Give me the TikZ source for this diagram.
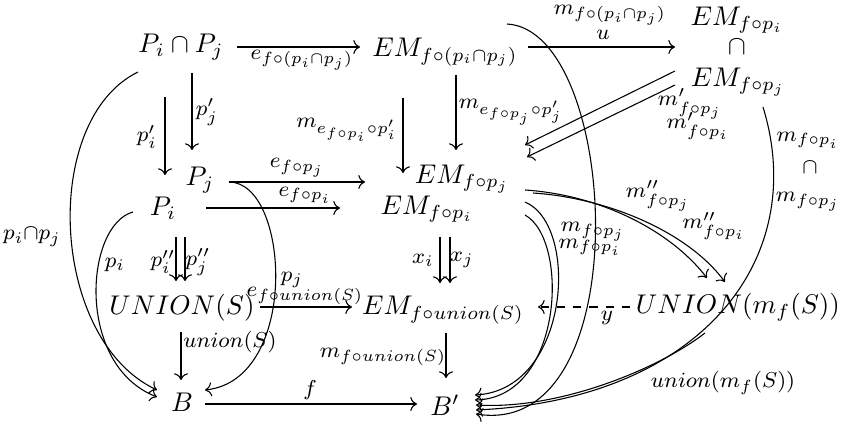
\documentclass[tikz,border=0pt]{standalone}
\usepackage{amsmath}
\usepackage{amssymb}
\usepackage{tikz}
\usetikzlibrary{
	arrows.meta,
	calc
}
\tikzset{
	obj/.style={inner sep=0pt},
	lbl/.style={inner sep=0pt, font=\footnotesize},
	map/.style={-{To}}
}

\begin{document}
\begin{tikzpicture}[x=0.37pt, y=-0.37pt]
		\useasboundingbox (0,0) rectangle (845,424);
		\node[obj] (pipj) at (181,47) {$P_i\cap P_j$};
		\node[obj] (emcap) at (445,52) {$EM_{f\circ(p_i\cap p_j)}$};
		\node[obj] (emtopi) at (737,20) {$EM_{f\circ p_i}$};
		\node[obj] (captop) at (737,47) {$\cap$};
		\node[obj] (emtopj) at (738,82) {$EM_{f\circ p_j}$};
		\node[obj] (pj) at (200,180) {$P_j$};
		\node[obj] (pi) at (163,208) {$P_i$};
		\node[obj] (emj) at (462,179) {$EM_{f\circ p_j}$};
		\node[obj] (emi) at (427,209) {$EM_{f\circ p_i}$};
		\node[obj] (unions) at (182,308) {$UNION(S)$};
		\node[obj] (emu) at (443,310) {$EM_{f\circ union(S)}$};
		\node[obj] (unionm) at (738,307) {$UNION(m_f(S))$};
		\node[obj] (b) at (182,402) {$B$};
		\node[obj] (bp) at (445,405) {$B'$};
		\draw[map] ($(pipj)+(56,0)$) -- ($(emcap)+(-85,-5)$);
		\draw[map] ($(emcap)+(83,-5)$) -- ($(emtopi)+(-62,27)$);
		\draw[map] ($(pipj)+(-16,50)$) -- ($(pi)+(2,-33)$);
		\draw[map] ($(pipj)+(11,26)$) -- ($(pj)+(-8,-30)$);
		\draw[map] ($(emcap)+(-42,46)$) -- ($(emi)+(-24,-36)$);
		\draw[map] ($(emcap)+(11,23)$) -- ($(emj)+(-6,-29)$);
		\draw[map] ($(emtopj)+(-63,-11)$) -- ($(emj)+(63,-34)$);
		\draw[map] ($(emtopj)+(-63,3)$) -- ($(emj)+(65,-22)$);
		\draw[map] ($(pj)+(29,2)$) -- ($(emj)+(-97,3)$);
		\draw[map] ($(pi)+(43,0)$) -- ($(emi)+(-87,-1)$);
		\draw[map] ($(pi)+(13,29)$) -- ($(unions)+(-6,-27)$);
		\draw[map] ($(pi)+(22,29)$) -- ($(unions)+(3,-27)$);
		\draw[map] ($(emi)+(13,28)$) -- ($(emu)+(-3,-27)$);
		\draw[map] ($(emi)+(23,28)$) -- ($(emu)+(7,-27)$);
		\draw[map] ($(unions)+(78,-1)$) -- ($(emu)+(-91,-3)$);
		\draw[map, dashed] ($(unionm)+(-108,0)$) -- ($(emu)+(95,-3)$);
		\draw[map] ($(unions)+(-1,24)$) -- ($(b)+(-1,-22)$);
		\draw[map] ($(emu)+(3,23)$) -- ($(bp)+(1,-27)$);
		\draw[map] ($(b)+(23,2)$) -- ($(bp)+(-28,-1)$);
		\draw[map] ($(pipj)+(-43,25)$) .. controls +(-98,48) and +(-107,-50) .. ($(b)+(-25,-12)$);
		\draw[map] ($(pi)+(-30,4)$) .. controls +(-48,13) and +(-82,-32) .. ($(b)+(-25,-5)$);
		\draw[map] ($(pj)+(29,2)$) .. controls +(61,0) and +(95,-10) .. ($(b)+(23,-12)$);
		\draw[map] ($(emcap)+(62,-28)$) .. controls +(113,6) and +(164,26) .. ($(bp)+(31,9)$);
		\draw[map] ($(emj)+(63,23)$) .. controls +(55,23) and +(95,-5) .. ($(bp)+(30,-10)$);
		\draw[map] ($(emj)+(63,36)$) .. controls +(45,25) and +(88,-2) .. ($(bp)+(30,-5)$);
		\draw[map] ($(emj)+(63,11)$) .. controls +(75,5) and +(-37,-48) .. ($(unionm)+(-31,-29)$);
		\draw[map] ($(emj)+(71,14)$) .. controls +(75,5) and +(-37,-50) .. ($(unionm)+(-13,-25)$);
		\draw[map] ($(unionm)+(-33,26)$) .. controls +(-45,35) and +(84,5) .. ($(bp)+(31,0)$);
		\draw[map] ($(emtopj)+(25,25)$) .. controls +(47,153) and +(224,-10) .. ($(bp)+(31,5)$);
		\node[lbl] (l-e) at (302,60) {$e_{f\circ(p_i\cap p_j)}$};
		\node[lbl] (l-u) at (603,35) {$u$};
		\node[lbl] (l-m) at (610,15) {$m_{f\circ(p_i\cap p_j)}$};
		\node[lbl] (l-pi1) at (147,137) {$p'_i$};
		\node[lbl] (l-pj1) at (207,112) {$p'_j$};
		\node[lbl] (l-ej) at (297,168) {$e_{f\circ p_j}$};
		\node[lbl] (l-ei) at (305,195) {$e_{f\circ p_i}$};
		\node[lbl] (l-mei) at (347,130) {$m_{e_{f\circ p_i}\circ p'_i}$};
		\node[lbl] (l-mej) at (511,112) {$m_{e_{f\circ p_j}\circ p'_j}$};
		\node[lbl] (l-mj1) at (690,104) {$m'_{f\circ p_j}$};
		\node[lbl] (l-mi1) at (698,126) {$m'_{f\circ p_i}$};
		\node[lbl] (l-ri) at (808,140) {$m_{f\circ p_i}$};
		\node[lbl] (l-rcap) at (810,167) {$\cap$};
		\node[lbl] (l-rj) at (808,202) {$m_{f\circ p_j}$};
		\node[lbl] (l-mj2) at (658,196) {$m''_{f\circ p_j}$};
		\node[lbl] (l-mi2) at (714,226) {$m''_{f\circ p_i}$};
		\node[lbl] (l-mj) at (593,232) {$m_{f\circ p_j}$};
		\node[lbl] (l-mi) at (590,247) {$m_{f\circ p_i}$};
		\node[lbl] (l-pipj) at (32,237) {$p_i{\cap}p_j$};
		\node[lbl] (l-pi) at (115,265) {$p_i$};
		\node[lbl] (l-pi2) at (163,262) {$p''_i$};
		\node[lbl] (l-pj2) at (198,262) {$p''_j$};
		\node[lbl] (l-xi) at (423,260) {$x_i$};
		\node[lbl] (l-xj) at (462,260) {$x_j$};
		\node[lbl] (l-pj) at (292,280) {$p_j$};
		\node[lbl] (l-eu) at (305,296) {$e_{f\circ union(S)}$};
		\node[lbl] (l-union) at (230,342) {$union(S)$};
		\node[lbl] (l-mu) at (383,357) {$m_{f\circ union(S)}$};
		\node[lbl] (l-y) at (607,318) {$y$};
		\node[lbl] (l-unionm) at (723,383) {$union(m_f(S))$};
		\node[lbl] (l-f) at (310,390) {$f$};
	\end{tikzpicture}
\end{document}
